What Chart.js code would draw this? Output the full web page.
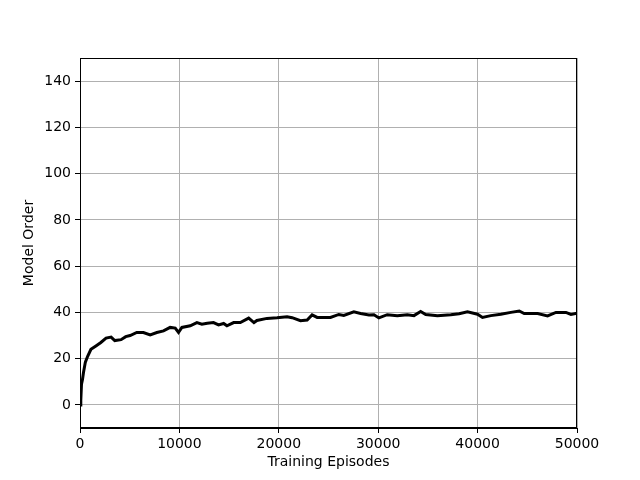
<!DOCTYPE html>
<html>
<head>
<meta charset="utf-8">
<script src="https://cdn.jsdelivr.net/npm/chart.js@4"></script>
<style>
  html, body { margin: 0; padding: 0; background: #fff; }
  #wrap { width: 640px; height: 480px; }
</style>
</head>
<body>
<div id="wrap"><canvas id="c" width="640" height="480"></canvas></div>
<script>
const episodes = [0, 80, 150, 250, 350, 540, 770, 1100, 1600, 2100, 2620, 3130, 3500, 4130, 4600, 5040,
  5710, 6380, 7060, 7730, 8400, 9070, 9580, 9910, 10250, 11090, 11760, 12260, 12800, 13430, 13940,
  14450, 14780, 15460, 16130, 16970, 17500, 17800, 18810, 19820, 20830, 21340, 22180, 22850, 23350,
  23860, 25200, 26040, 26540, 27550, 28230, 29070, 29570, 30070, 30910, 31920, 32930, 33600, 34270,
  34780, 35960, 37300, 38140, 38980, 39990, 40490, 41330, 42340, 43350, 44190, 44690, 46040, 47040,
  47880, 48890, 49390, 50000];
const modelOrder = [0, 2, 9, 11, 14, 18.5, 21, 24, 25.5, 27, 28.9, 29.3, 27.8, 28.2, 29.5, 30.0,
  31.3, 31.3, 30.3, 31.3, 32.0, 33.5, 33.2, 31.3, 33.5, 34.2, 35.6, 34.9, 35.3, 35.6, 34.6,
  35.2, 34.2, 35.6, 35.6, 37.5, 35.6, 36.5, 37.4, 37.7, 38.1, 37.7, 36.4, 36.7, 38.9,
  37.8, 37.8, 39.1, 38.7, 40.2, 39.5, 38.9, 39.0, 37.6, 39.0, 38.5, 39.0, 38.6, 40.4,
  39.1, 38.5, 39.0, 39.4, 40.3, 39.2, 37.8, 38.6, 39.2, 40.0, 40.6, 39.5, 39.5, 38.5,
  40.0, 40.0, 39.1, 39.6];
const xTicks = [0, 10000, 20000, 30000, 40000, 50000];
const yTicks = [0, 20, 40, 60, 80, 100, 120, 140];
const xTitle = 'Training Episodes';
const yTitle = 'Model Order';

const FONT = "'DejaVu Sans', sans-serif";

const frame = {
  id: 'frame',
  afterDatasetsDraw(chart) {
    const a = chart.chartArea, ctx = chart.ctx;
    ctx.save();
    ctx.strokeStyle = '#000';
    ctx.lineWidth = 1;
    ctx.strokeRect(Math.round(a.left) + 0.5, Math.round(a.top) + 0.5,
      Math.round(a.right - a.left) - 1, Math.round(a.bottom - a.top) - 1);
    ctx.restore();
  }
};

new Chart(document.getElementById('c'), {
  type: 'line',
  data: {
    datasets: [{
      data: episodes.map((e, i) => ({ x: e, y: modelOrder[i] })),
      borderColor: '#000',
      borderWidth: 3,
      pointRadius: 0,
      tension: 0,
      fill: false
    }]
  },
  options: {
    responsive: false,
    animation: false,
    devicePixelRatio: 1,
    layout: { padding: { top: 58, right: 63, left: 0, bottom: 0 } },
    plugins: { legend: { display: false }, tooltip: { enabled: false } },
    scales: {
      x: {
        type: 'linear',
        min: 0, max: 50000,
        afterFit(s) { s.height = 52; },
        afterBuildTicks(s) { s.ticks = xTicks.map(v => ({ value: v })); },
        ticks: { color: '#000', font: { family: FONT, size: 14 }, padding: 3, maxRotation: 0, autoSkip: false,
          callback: v => String(v) },
        grid: { color: '#b0b0b0', lineWidth: 1, tickColor: '#000', tickLength: 5, drawTicks: true },
        border: { color: '#000', width: 1 },
        title: { display: true, text: xTitle, color: '#000', font: { family: FONT, size: 14 }, padding: { top: 0, bottom: 9 } }
      },
      y: {
        type: 'linear',
        min: -10, max: 150,
        afterFit(s) { s.width = 80; },
        afterBuildTicks(s) { s.ticks = yTicks.map(v => ({ value: v })); },
        ticks: { color: '#000', font: { family: FONT, size: 14 }, padding: 4, autoSkip: false,
          callback: v => String(v) },
        grid: { color: '#b0b0b0', lineWidth: 1, tickColor: '#000', tickLength: 5, drawTicks: true },
        border: { color: '#000', width: 1 },
        title: { display: true, text: yTitle, color: '#000', font: { family: FONT, size: 14 }, padding: { top: 21, bottom: 0 } }
      }
    }
  },
  plugins: [frame]
});
</script>
</body>
</html>
